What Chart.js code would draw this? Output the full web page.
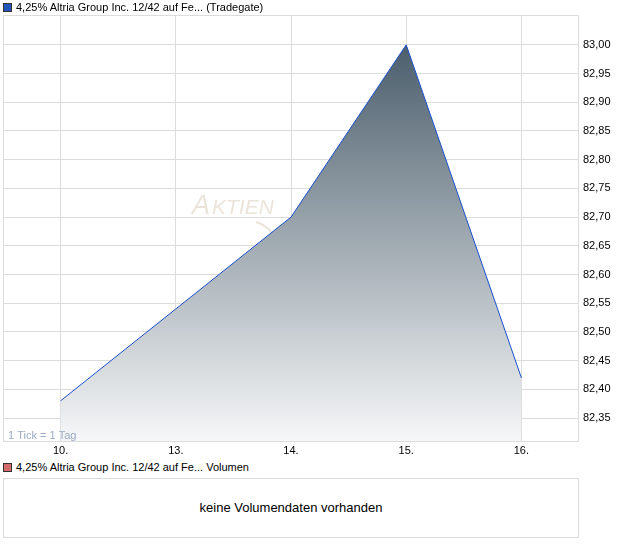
<!DOCTYPE html>
<html>
<head>
<meta charset="utf-8">
<script src="https://cdn.jsdelivr.net/npm/chart.js@4"></script>
<style>
  body { margin: 0; width: 620px; height: 546px; background: #fff; position: relative;
         font-family: "Liberation Sans", Arial, sans-serif; font-size: 11px; color: #000; }
  #wrap { position: absolute; left: 0; top: 0; width: 620px; height: 460px; }
  .leg { position: absolute; left: 3px; height: 12px; line-height: 12px; white-space: nowrap; }
  .leg i { display: inline-block; width: 7px; height: 7px; border: 1px solid #333; margin-right: 4px; vertical-align: -1px; }
  #vol { position: absolute; left: 3px; top: 478px; width: 574px; height: 58px; border: 1px solid #dcdcdc;
         text-align: center; line-height: 58px; font-size: 13px; }
</style>
</head>
<body>
<div id="wrap"><canvas id="kurs"></canvas></div>
<div class="leg" style="top:1px"><i style="background:#2455b8"></i>4,25% Altria Group Inc. 12/42 auf Fe... (Tradegate)</div>
<div class="leg" style="top:461px"><i style="background:#d46a6a"></i>4,25% Altria Group Inc. 12/42 auf Fe... Volumen</div>
<div id="vol">keine Volumendaten vorhanden</div>

<script>
const tage = ['10.', '13.', '14.', '15.', '16.'];
const kurse = [82.38, 82.54, 82.70, 83.00, 82.42];
const yMin = 82.31;
const yMax = 83.052;
const yTickMax = 83.00;

// Rahmen, Wasserzeichen und Tick-Hinweis
const extras = {
  id: 'extras',
  beforeDatasetsDraw(chart) {
    const c = chart.ctx;
    c.save();
    c.fillStyle = '#ebe4da';
    c.font = 'italic 27px "Liberation Sans", Arial, sans-serif';
    c.fillText('A', 192, 214);
    c.font = 'italic 21px "Liberation Sans", Arial, sans-serif';
    c.fillText('KTIEN', 212, 214);
    c.strokeStyle = '#ebe4da';
    c.lineWidth = 2;
    c.beginPath();
    c.moveTo(256, 222);
    c.quadraticCurveTo(266, 225, 272, 233);
    c.stroke();
    c.restore();
  },
  afterDraw(chart) {
    const c = chart.ctx, a = chart.chartArea;
    c.save();
    c.strokeStyle = '#dcdcdc';
    c.lineWidth = 1;
    c.strokeRect(Math.round(a.left) + 0.5, Math.round(a.top) + 0.5,
      Math.round(a.right - a.left) - 1, Math.round(a.bottom - a.top));
    c.fillStyle = '#9aaac2';
    c.font = '11px "Liberation Sans", Arial, sans-serif';
    c.fillText('1 Tick = 1 Tag', 8, a.bottom - 2);
    c.restore();
  }
};

new Chart(document.getElementById('kurs'), {
  type: 'line',
  data: {
    labels: tage,
    datasets: [{
      data: kurse,
      borderColor: '#1a50d0',
      borderWidth: 1,
      pointRadius: 0,
      tension: 0,
      fill: 'start',
      backgroundColor(ctx) {
        const a = ctx.chart.chartArea;
        if (!a) return 'rgba(0,0,0,0)';
        const g = ctx.chart.ctx.createLinearGradient(0, a.top + 28, 0, a.bottom);
        g.addColorStop(0, '#4b5e6c');
        g.addColorStop(1, '#f6f7f8');
        return g;
      }
    }]
  },
  options: {
    responsive: true,
    maintainAspectRatio: false,
    animation: false,
    layout: { padding: { left: 3, top: 15, right: 0, bottom: 0 } },
    plugins: { legend: { display: false }, tooltip: { enabled: false } },
    scales: {
      x: {
        offset: true,
        grid: { color: '#dcdcdc', drawTicks: false, offset: false },
        border: { display: false },
        ticks: { color: '#000', padding: 3, font: { family: '"Liberation Sans", Arial, sans-serif', size: 11 } },
        afterFit(s) { s.height = 19; }
      },
      y: {
        position: 'right',
        min: yMin,
        max: yMax,
        grid: { color: '#dcdcdc', drawTicks: false },
        border: { display: false },
        ticks: {
          stepSize: 0.05,
          includeBounds: false,
          padding: 4,
          color: '#000',
          font: { family: '"Liberation Sans", Arial, sans-serif', size: 11 },
          callback: v => v.toFixed(2).replace('.', ',')
        },
        afterBuildTicks(s) { s.ticks = s.ticks.filter(t => t.value <= yTickMax + 0.001); },
        afterFit(s) { s.width = 41; }
      }
    }
  },
  plugins: [extras]
});
</script>
</body>
</html>
